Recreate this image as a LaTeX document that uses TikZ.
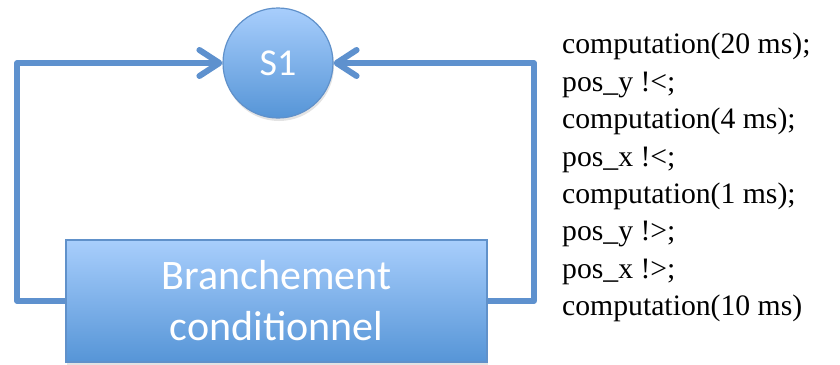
\documentclass[tikz,border=0pt]{standalone}
\usepackage{fontspec}
\setmainfont{Liberation Serif}
\newfontfamily\calfont{Carlito}
\usetikzlibrary{arrows.meta,shadows}
\definecolor{linkblue}{RGB}{94,145,206}
\definecolor{shadetop}{RGB}{168,206,252}
\definecolor{shadebot}{RGB}{86,149,215}
\definecolor{rimblue}{RGB}{96,145,202}
\tikzset{
  bluefill/.style={draw=rimblue, line width=1.2pt, top color=shadetop, bottom color=shadebot,
    drop shadow={opacity=0.22, shadow xshift=1pt, shadow yshift=-3pt}},
  statenode/.style={circle, bluefill, minimum size=110pt, inner sep=0pt,
    text=white, font=\calfont\fontsize{38}{40}\selectfont},
  blockbox/.style={rectangle, bluefill, minimum width=421pt, minimum height=122pt, inner sep=0pt,
    text=white, align=center, font=\calfont\fontsize{42}{50}\selectfont},
  loopline/.style={draw=linkblue, line width=6pt, line join=round,
    -{Straight Barb[length=20pt,width=26pt,round]}},
  codetext/.style={anchor=north west, inner sep=0pt, align=left,
    font=\fontsize{29.7}{37.4}\selectfont}
}
\begin{document}
\begin{tikzpicture}[x=1pt, y=-1pt]
  \useasboundingbox (0,0) rectangle (840,364);
  % state and branching block
  \node[statenode] (s1) at (278,63) {S1};
  \node[blockbox] (br) at (276.5,301) {\raisebox{-2pt}{Branchement}\\\raisebox{-3pt}{conditionnel}};
  % feedback loops from the block back to the state
  \draw[loopline] (br.west) -- ++(-48,0) |- (s1.west);
  \draw[loopline] (br.east) -- ++(46,0) |- (s1.east);
  % event sequence
  \node[codetext] (seq) at (562,33) {computation(20 ms);\\
    pos\_y !<;\\
    computation(4 ms);\\
    pos\_x !<;\\
    computation(1 ms);\\
    pos\_y !>;\\
    pos\_x !>;\\
    computation(10 ms)};
\end{tikzpicture}
\end{document}
